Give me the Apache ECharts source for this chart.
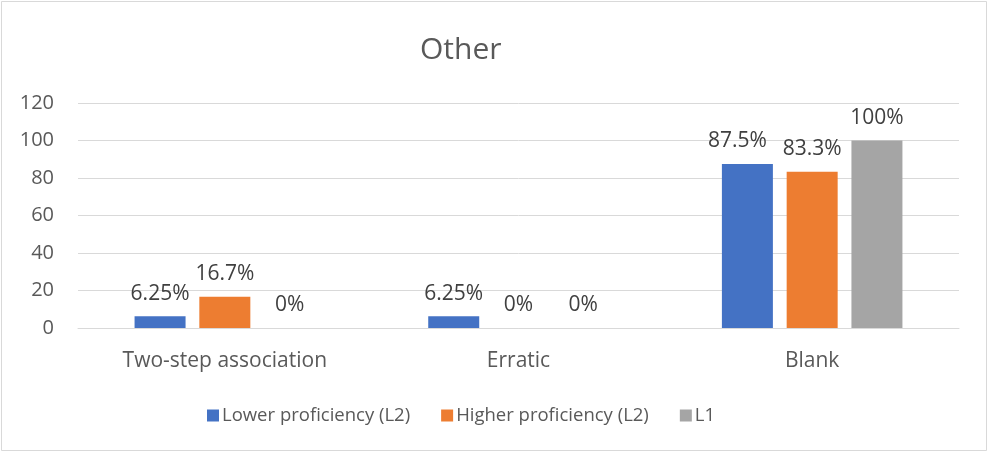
<!DOCTYPE html>
<html>
<head>
<meta charset="utf-8">
<script src="https://cdn.jsdelivr.net/npm/echarts@6/dist/echarts.min.js"></script>
<style>
html,body{margin:0;padding:0;background:#fff;}
#c{width:990px;height:452px;}
</style>
</head>
<body>
<div id="c"></div>
<script>
const title = "Other";
const categories = ["Two-step association", "Erratic", "Blank"];
const seriesNames = ["Lower proficiency (L2)", "Higher proficiency (L2)", "L1"];
const lowerValues = [6.25, 6.25, 87.5];
const higherValues = [16.7, 0, 83.3];
const l1Values = [0, 0, 100];
const lowerLabels = ["6.25%", "6.25%", "87.5%"];
const higherLabels = ["16.7%", "0%", "83.3%"];
const l1Labels = ["0%", "0%", "100%"];
const yTicks = [0, 20, 40, 60, 80, 100, 120];

const colors = ["#4472C4", "#ED7D31", "#A5A5A5"];
const FONT = "Open Sans";
const TXT = "#595959";

function mkSeries(name, vals, labels, color, shiftIdx) {
  return {
    name: name,
    type: "bar",
    data: vals.map((v, i) => i === shiftIdx ? { value: v, label: { offset: [-10, 0] } } : v),
    barWidth: 51,
    barGap: "27%",
    itemStyle: { color: color },
    label: {
      show: true,
      position: "top",
      distance: 12,
      fontFamily: FONT,
      fontSize: 21,
      color: "#404040",
      formatter: p => labels[p.dataIndex]
    }
  };
}

const chart = echarts.init(document.getElementById("c"), null, { renderer: "canvas" });
chart.setOption({
  animation: false,
  backgroundColor: "#fff",
  color: colors,
  title: {
    text: title,
    left: 415,
    top: 30,
    textStyle: { fontFamily: FONT, fontSize: 30, fontWeight: "normal", color: TXT }
  },
  graphic: [{
    type: "rect",
    shape: { x: 1.5, y: 1.5, width: 985, height: 449 },
    style: { fill: "none", stroke: "#D9D9D9", lineWidth: 1 },
    silent: true
  }],
  legend: {
    data: seriesNames,
    bottom: 22,
    left: 202,
    icon: "rect",
    itemWidth: 12,
    itemHeight: 12,
    itemGap: 31,
    textStyle: { fontFamily: FONT, fontSize: 18.5, color: TXT, padding: [0, 0, 0, -2] }
  },
  grid: { left: 78, right: 31, top: 103, bottom: 124, containLabel: false },
  xAxis: {
    type: "category",
    data: categories,
    axisLine: { lineStyle: { color: "#D9D9D9", width: 1 } },
    axisTick: { show: false },
    axisLabel: { fontFamily: FONT, fontSize: 21, color: TXT, margin: 23 }
  },
  yAxis: {
    type: "value",
    min: yTicks[0],
    max: yTicks[yTicks.length - 1],
    interval: 20,
    axisLine: { show: false },
    axisTick: { show: false },
    splitLine: { lineStyle: { color: "#D9D9D9", width: 1 } },
    axisLabel: { fontFamily: FONT, fontSize: 20, color: TXT, margin: 24 }
  },
  series: [
    mkSeries(seriesNames[0], lowerValues, lowerLabels, colors[0], 2),
    mkSeries(seriesNames[1], higherValues, higherLabels, colors[1], -1),
    mkSeries(seriesNames[2], l1Values, l1Labels, colors[2], -1)
  ]
});
</script>
</body>
</html>
